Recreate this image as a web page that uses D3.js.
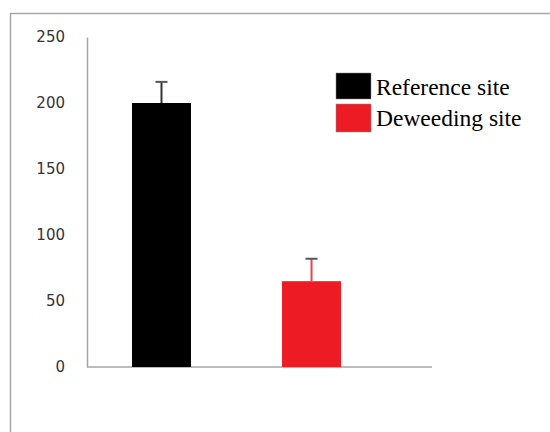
<!DOCTYPE html>
<html><head><meta charset="utf-8">
<script src="https://cdn.jsdelivr.net/npm/d3@7"></script>
<style>html,body{margin:0;padding:0;background:#fff;}</style>
</head><body>
<script>
const categories = ["Reference site", "Deweeding site"];
const values = [200, 65];
const errors = [16, 17];
const colors = ["#000000", "#ed1c24"];
const yTicks = [0, 50, 100, 150, 200, 250];

const W = 550, H = 432;
const svg = d3.select("body").append("svg").attr("width", W).attr("height", H);

// outer frame
svg.append("rect").attr("x", 10.5).attr("y", 13.5).attr("width", 560).attr("height", 440)
  .attr("fill", "none").attr("stroke", "#a6a6a6").attr("stroke-width", 1.5);

const x0 = 87, x1 = 432, yTop = 37, yBot = 367;
const y = d3.scaleLinear().domain([0, 250]).range([yBot, yTop]);
const x = d3.scaleBand().domain(categories).range([x0, 386]).paddingInner(0.607).paddingOuter(0.3);

// axes
const yAxis = d3.axisLeft(y).tickValues(yTicks).tickSize(0).tickPadding(22);
const gy = svg.append("g").attr("transform", `translate(${x0},0)`).call(yAxis);
gy.select(".domain").attr("stroke", "#a6a6a6").attr("stroke-width", 1.5);
gy.selectAll("text").attr("font-family", "DejaVu Sans, Verdana, sans-serif").attr("font-size", 15).attr("fill", "#333");

svg.append("line").attr("x1", x0).attr("x2", x1).attr("y1", yBot).attr("y2", yBot)
  .attr("stroke", "#a6a6a6").attr("stroke-width", 1.5);

// bars
svg.selectAll("rect.bar").data(categories).enter().append("rect").attr("class", "bar")
  .attr("x", d => x(d)).attr("width", x.bandwidth())
  .attr("y", (d, i) => y(values[i])).attr("height", (d, i) => yBot - y(values[i]))
  .attr("fill", (d, i) => colors[i]);

// error bars
const eb = svg.selectAll("g.err").data(categories).enter().append("g").attr("class", "err");
eb.append("line")
  .attr("x1", d => x(d) + x.bandwidth() / 2).attr("x2", d => x(d) + x.bandwidth() / 2)
  .attr("y1", (d, i) => y(values[i])).attr("y2", (d, i) => y(values[i] + errors[i]))
  .attr("stroke", (d, i) => i === 0 ? "#333" : "#e8464c").attr("stroke-width", 2);
eb.append("line")
  .attr("x1", d => x(d) + x.bandwidth() / 2 - 6).attr("x2", d => x(d) + x.bandwidth() / 2 + 6)
  .attr("y1", (d, i) => y(values[i] + errors[i])).attr("y2", (d, i) => y(values[i] + errors[i]))
  .attr("stroke", "#555").attr("stroke-width", 2);

// legend
const lg = svg.append("g").attr("transform", "translate(336,73)");
const items = lg.selectAll("g").data(categories).enter().append("g")
  .attr("transform", (d, i) => `translate(0,${i * 31})`);
items.append("rect").attr("width", 35).attr("height", (d, i) => i === 0 ? 26 : 28)
  .attr("fill", (d, i) => colors[i]).attr("stroke", "#888").attr("stroke-width", 0.5);
items.append("text").attr("x", 40).attr("y", 22).text(d => d)
  .attr("font-family", "Liberation Serif, Times New Roman, serif").attr("font-size", 23.5).attr("fill", "#000");
</script>
</body></html>
